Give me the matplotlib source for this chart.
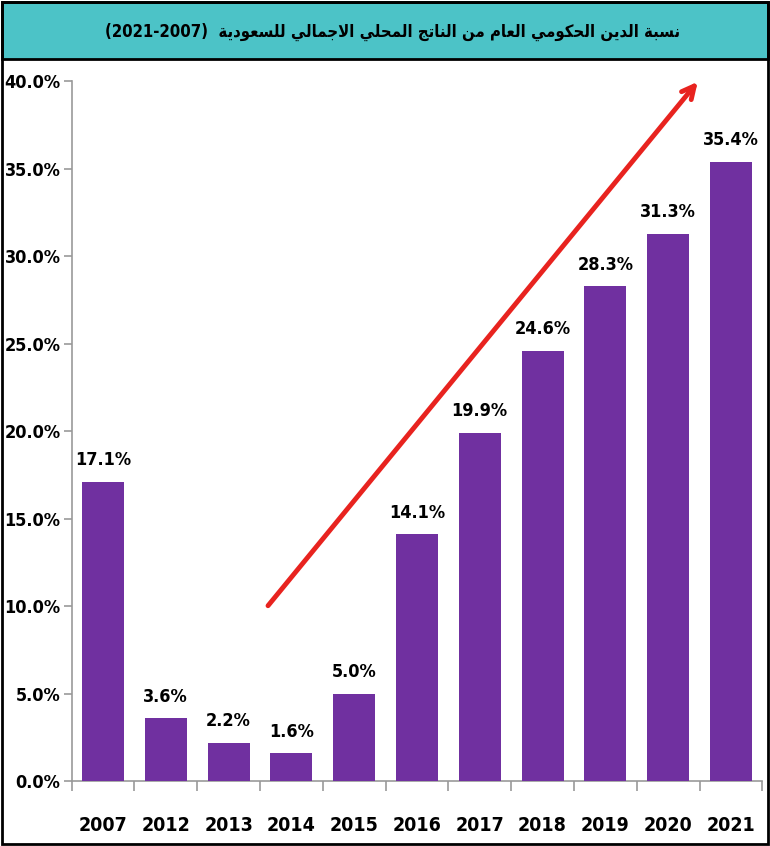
import matplotlib.pyplot as plt
from matplotlib.patches import Rectangle
import numpy as np

# Data
years = ['2007', '2012', '2013', '2014', '2015', '2016', '2017', '2018', '2019', '2020', '2021']
debt_pct = [17.1, 3.6, 2.2, 1.6, 5.0, 14.1, 19.9, 24.6, 28.3, 31.3, 35.4]
y_ticks = [0, 5, 10, 15, 20, 25, 30, 35, 40]
title_ar = 'نسبة الدين الحكومي العام من الناتج المحلي الاجمالي للسعودية'
title_years = '(2021-2007)'

# --- minimal Arabic shaping (matplotlib has no bidi / shaping) ---
FORMS = {  # isolated, final, initial, medial
    'ا': (0xFE8D, 0xFE8E, None, None),
    'ب': (0xFE8F, 0xFE90, 0xFE91, 0xFE92),
    'ة': (0xFE93, 0xFE94, None, None),
    'ت': (0xFE95, 0xFE96, 0xFE97, 0xFE98),
    'ج': (0xFE9D, 0xFE9E, 0xFE9F, 0xFEA0),
    'ح': (0xFEA1, 0xFEA2, 0xFEA3, 0xFEA4),
    'د': (0xFEA9, 0xFEAA, None, None),
    'س': (0xFEB1, 0xFEB2, 0xFEB3, 0xFEB4),
    'ع': (0xFEC9, 0xFECA, 0xFECB, 0xFECC),
    'ك': (0xFED9, 0xFEDA, 0xFEDB, 0xFEDC),
    'ل': (0xFEDD, 0xFEDE, 0xFEDF, 0xFEE0),
    'م': (0xFEE1, 0xFEE2, 0xFEE3, 0xFEE4),
    'ن': (0xFEE5, 0xFEE6, 0xFEE7, 0xFEE8),
    'و': (0xFEED, 0xFEEE, None, None),
    'ي': (0xFEF1, 0xFEF2, 0xFEF3, 0xFEF4),
}


def joins_next(c):
    return c in FORMS and FORMS[c][2] is not None


def shape(text):
    out = []
    i = 0
    n = len(text)
    while i < n:
        c = text[i]
        if c not in FORMS:
            out.append(c)
            i += 1
            continue
        prev = text[i - 1] if i > 0 else ''
        link_prev = joins_next(prev)
        if c == 'ل' and i + 1 < n and text[i + 1] == 'ا':
            out.append(chr(0xFEFC if link_prev else 0xFEFB))
            i += 2
            continue
        nxt = text[i + 1] if i + 1 < n else ''
        link_next = joins_next(c) and nxt in FORMS
        iso, fin, ini, med = FORMS[c]
        if link_prev and link_next:
            out.append(chr(med))
        elif link_prev:
            out.append(chr(fin))
        elif link_next:
            out.append(chr(ini))
        else:
            out.append(chr(iso))
        i += 1
    return ''.join(out)[::-1]


display_title = title_years + '  ' + shape(title_ar)

narrow = ['DejaVu Sans Condensed', 'DejaVu Sans']

fig = plt.figure(figsize=(7.7, 8.46), dpi=100)
fig.patch.set_facecolor('white')

# title band
fig.patches.append(Rectangle((0.002, 0.93), 0.996, 0.068, transform=fig.transFigure,
                             facecolor='#4CC3C7', edgecolor='black', linewidth=2))
# outer frame
fig.patches.append(Rectangle((0.002, 0.002), 0.996, 0.996, transform=fig.transFigure,
                             facecolor='none', edgecolor='black', linewidth=2))
fig.text(0.51, 0.962, display_title, ha='center', va='center', fontsize=12,
         fontweight='bold', family=narrow, fontstretch='condensed', color='black')

ax = fig.add_axes([0.093, 0.0768, 0.897, 0.827])
x = np.arange(len(years))
bars = ax.bar(x, debt_pct, width=0.67, color='#7030A0', zorder=3)

for xi, v in zip(x, debt_pct):
    ax.annotate(f'{v:.1f}%', (xi, v), xytext=(0, 9), textcoords='offset points',
                ha='center', va='bottom', fontsize=13, fontweight='bold',
                family=narrow, fontstretch='condensed')

ax.set_xlim(-0.5, len(years) - 0.5)
ax.set_ylim(0, 40)
ax.set_yticks(y_ticks)
ax.set_yticklabels([f'{t:.1f}%' for t in y_ticks], fontsize=13, fontweight='bold',
                   family=narrow, fontstretch='condensed')
ax.set_xticks(x)
ax.set_xticklabels(years, fontsize=14, fontweight='bold', family=narrow,
                   fontstretch='condensed')
ax.set_xticks(np.arange(-0.5, len(years)), minor=True)
ax.tick_params(axis='x', which='major', length=0, pad=25)
ax.tick_params(axis='x', which='minor', length=7, color='#999999', width=1.2)
ax.tick_params(axis='y', length=6, color='#999999', width=1.2, pad=2)

for s in ['top', 'right']:
    ax.spines[s].set_visible(False)
ax.spines['left'].set_color('#999999')
ax.spines['bottom'].set_color('#999999')
ax.spines['left'].set_linewidth(1.2)
ax.spines['bottom'].set_linewidth(1.2)

# trend arrow
ax.annotate('', xy=(9.5, 40.1), xytext=(2.6, 9.9),
            arrowprops=dict(arrowstyle='->,head_length=0.9,head_width=0.45', color='#E8231F',
                            lw=3.5), annotation_clip=False, zorder=5)

fig.savefig('out.png', dpi=100)
